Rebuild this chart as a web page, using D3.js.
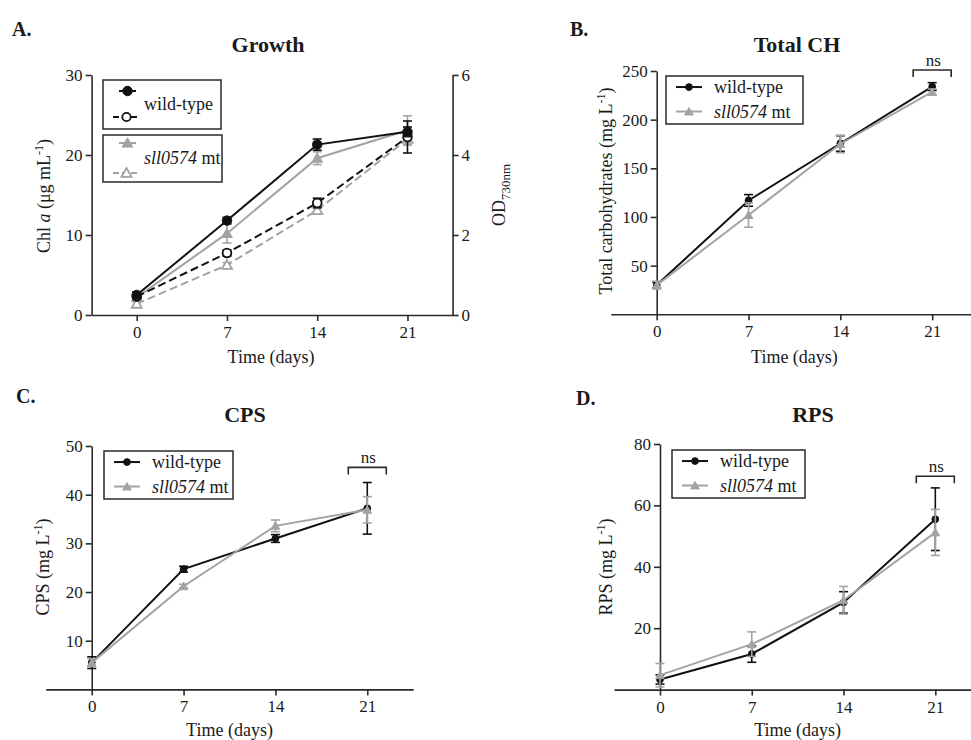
<!DOCTYPE html>
<html>
<head>
<meta charset="utf-8">
<script src="https://cdn.jsdelivr.net/npm/d3@7/dist/d3.min.js"></script>
<style>
  html, body { margin: 0; padding: 0; background: #fff; }
  svg { display: block; }
  text { font-family: "Liberation Serif", "Times New Roman", serif; fill: #1a1a1a; }
</style>
</head>
<body>
<svg id="fig" width="971" height="740"></svg>
<script>
// ---- data ----
const days = [0, 7, 14, 21];
const xTicks = [0, 7, 14, 21];

// Growth: chlorophyll a (left axis) and OD730 (right axis)
const chlWT = [2.5, 11.8, 21.3, 22.9];
const chlWTErr = [0.4, 0.4, 0.7, 0.6];
const chlMT = [2.2, 10.2, 19.6, 23.1];
const chlMTErr = [0.4, 1.2, 0.8, 1.8];
const odWT = [0.46, 1.55, 2.8, 4.45];
const odWTErr = [0.06, 0.08, 0.12, 0.4];
const odMT = [0.28, 1.25, 2.62, 4.4];
const odMTErr = [0.05, 0.06, 0.1, 0.15];
const chlTicks = [0, 10, 20, 30];
const odTicks = [0, 2, 4, 6];

// Total carbohydrates
const chWT = [30, 117, 175.5, 234];
const chWTErr = [3, 6, 8, 4];
const chMT = [30, 102, 175, 228.5];
const chMTErr = [4, 12.5, 9, 3];
const chTicks = [50, 100, 150, 200, 250];

// CPS
const cpsWT = [5.5, 24.7, 31.0, 37.2];
const cpsWTErr = [1.2, 0.6, 0.8, 5.3];
const cpsMT = [5.5, 21.2, 33.6, 36.9];
const cpsMTErr = [0.8, 0.4, 1.2, 2.7];
const cpsTicks = [10, 20, 30, 40, 50];

// RPS
const rpsWT = [3.3, 11.6, 28.4, 55.5];
const rpsWTErr = [1.5, 2.7, 3.5, 10.2];
const rpsMT = [4.7, 14.8, 29.1, 51.2];
const rpsMTErr = [3.8, 4.0, 4.5, 7.5];
const rpsTicks = [20, 40, 60, 80];

// "ns" bracket heights (in data units of each panel)
const nsLevelCH = 251;
const nsLevelCPS = 45.6;
const nsLevelRPS = 69.5;

// ---- styling ----
const BLACK = "#111";
const GREY = "#a3a3a3";
const AXIS = "#2a2a2a";
const SERIF = '"Liberation Serif", "Times New Roman", serif';
const TICK_SIZE = 17;
const LABEL_SIZE = 18;

const svg = d3.select("#fig");

function styleAxis(g) {
  g.attr("font-family", SERIF).attr("font-size", TICK_SIZE);
  g.selectAll("path.domain").attr("stroke", AXIS).attr("stroke-width", 1.6);
  g.selectAll(".tick line").attr("stroke", AXIS).attr("stroke-width", 1.6);
  g.selectAll(".tick text")
    .style("font-family", SERIF)
    .style("font-size", TICK_SIZE + "px")
    .attr("fill", "#1a1a1a");
}

function label(txt, x, y, opts = {}) {
  const t = svg.append("text")
    .attr("x", x).attr("y", y)
    .attr("text-anchor", opts.anchor || "middle")
    .style("font-family", SERIF)
    .style("font-size", (opts.size || LABEL_SIZE) + "px")
    .style("font-weight", opts.bold ? "bold" : "normal");
  if (txt) t.text(txt);
  if (opts.rotate) t.attr("transform", `rotate(-90, ${x}, ${y})`);
  return t;
}

function yLabelRich(x, y, parts) {
  const t = label("", x, y, { rotate: true });
  parts.forEach(p => {
    const s = t.append("tspan").text(p.t);
    if (p.italic) s.style("font-style", "italic");
    if (p.sup) s.attr("dy", -7).style("font-size", "12px");
    if (p.afterSup) s.attr("dy", 7);
    if (p.sub) s.attr("dy", 5).style("font-size", "13px");
  });
  return t;
}

function series(g, x, y, vals, errs, color, opts) {
  const pts = days.map((d, i) => ({ d, v: vals[i], e: errs[i] }));
  const line = d3.line().x(p => x(p.d)).y(p => y(p.v));
  g.append("path").datum(pts)
    .attr("d", line)
    .attr("fill", "none")
    .attr("stroke", color)
    .attr("stroke-width", opts.lw || 2)
    .attr("stroke-dasharray", opts.dash || null);
  const cap = opts.cap || 4.5;
  const eb = g.append("g").attr("stroke", color).attr("stroke-width", 1.6);
  pts.forEach(p => {
    const cx = x(p.d);
    eb.append("line").attr("x1", cx).attr("x2", cx).attr("y1", y(p.v - p.e)).attr("y2", y(p.v + p.e));
    eb.append("line").attr("x1", cx - cap).attr("x2", cx + cap).attr("y1", y(p.v + p.e)).attr("y2", y(p.v + p.e));
    eb.append("line").attr("x1", cx - cap).attr("x2", cx + cap).attr("y1", y(p.v - p.e)).attr("y2", y(p.v - p.e));
  });
  const sym = d3.symbol().type(opts.shape === "tri" ? d3.symbolTriangle : d3.symbolCircle).size(opts.size || 40);
  g.selectAll(null).data(pts).enter().append("path")
    .attr("d", sym)
    .attr("transform", p => `translate(${x(p.d)},${y(p.v) + (opts.shape === "tri" ? 1 : 0)})`)
    .attr("fill", opts.open ? "#fff" : color)
    .attr("stroke", color)
    .attr("stroke-width", opts.open ? 1.8 : 1);
}

function legendRow(g, x1, x2, y, color, shape, open, dash, size) {
  g.append("line").attr("x1", x1).attr("x2", x2).attr("y1", y).attr("y2", y)
    .attr("stroke", color).attr("stroke-width", 2).attr("stroke-dasharray", dash || null);
  g.append("path")
    .attr("d", d3.symbol().type(shape === "tri" ? d3.symbolTriangle : d3.symbolCircle).size(size))
    .attr("transform", `translate(${(x1 + x2) / 2},${y + (shape === "tri" ? 1 : 0)})`)
    .attr("fill", open ? "#fff" : color).attr("stroke", color).attr("stroke-width", open ? 1.8 : 1);
}

function mtText(t) {
  t.append("tspan").text("sll0574").style("font-style", "italic");
  t.append("tspan").text(" mt");
}

function nsBracket(x, y, day, level) {
  const xc = x(day), yy = y(level);
  svg.append("path")
    .attr("d", `M${xc - 19},${yy + 7}V${yy}H${xc + 19}V${yy + 7}`)
    .attr("fill", "none").attr("stroke", AXIS).attr("stroke-width", 1.6);
  label("ns", xc + 1, yy - 4, { size: 17 });
}

// ---- Panel A: Growth ----
{
  const x = d3.scaleLinear().domain([-3.5, 24.5]).range([91.6, 452.6]);
  const yL = d3.scaleLinear().domain([0, 30]).range([315, 75]);
  const yR = d3.scaleLinear().domain([0, 6]).range([315, 75]);
  const gx = svg.append("g").attr("transform", `translate(0,${yL(0)})`)
    .call(d3.axisBottom(x).tickValues(xTicks).tickSize(6).tickSizeOuter(0).tickPadding(5));
  styleAxis(gx);
  const gy = svg.append("g").attr("transform", `translate(${x(-3.5)},0)`)
    .call(d3.axisLeft(yL).tickValues(chlTicks).tickSize(6).tickSizeOuter(0).tickPadding(3));
  styleAxis(gy);
  const gr = svg.append("g").attr("transform", `translate(${x(24.5)},0)`)
    .call(d3.axisRight(yR).tickValues(odTicks).tickFormat(d3.format("d")).tickSize(6).tickSizeOuter(0).tickPadding(3));
  styleAxis(gr);

  const g = svg.append("g");
  series(g, x, yR, odMT, odMTErr, GREY, { dash: "8,4", shape: "tri", open: true, size: 45 });
  series(g, x, yL, chlMT, chlMTErr, GREY, { shape: "tri", size: 50 });
  series(g, x, yR, odWT, odWTErr, BLACK, { dash: "8,4", shape: "circle", open: true, size: 60 });
  series(g, x, yL, chlWT, chlWTErr, BLACK, { shape: "circle", size: 70 });

  label("A.", 12, 36, { anchor: "start", size: 20, bold: true });
  label("Growth", 268, 52, { size: 22, bold: true });
  label("Time (days)", 271, 363);
  yLabelRich(50, 196, [{ t: "Chl " }, { t: "a", italic: true }, { t: " (μg mL" }, { t: "-1", sup: true }, { t: ")", afterSup: true }]);
  yLabelRich(505, 195, [{ t: "OD" }, { t: "730nm", sub: true }]);

  // legend: two boxes
  const lg = svg.append("g");
  lg.append("rect").attr("x", 103).attr("y", 80).attr("width", 118).attr("height", 49)
    .attr("fill", "#fff").attr("stroke", AXIS).attr("stroke-width", 1.5);
  lg.append("rect").attr("x", 103).attr("y", 135).attr("width", 119).attr("height", 47)
    .attr("fill", "#fff").attr("stroke", AXIS).attr("stroke-width", 1.5);
  legendRow(lg, 119, 136, 91, BLACK, "circle", false, null, 70);
  legendRow(lg, 113, 140, 117, BLACK, "circle", true, "6,3", 55);
  legendRow(lg, 119, 136, 143, GREY, "tri", false, null, 50);
  legendRow(lg, 113, 140, 173, GREY, "tri", true, "6,3", 45);
  label("wild-type", 144, 110, { anchor: "start" });
  mtText(label("", 144, 164, { anchor: "start" }));
}

// ---- Panels B–D share one layout ----
function timePanel(p) {
  const x = d3.scaleLinear().domain([-3.5, 24.5]).range(p.xr);
  const y = d3.scaleLinear().domain([0, p.ymax]).range(p.yr);
  const gx = svg.append("g").attr("transform", `translate(0,${y(0)})`)
    .call(d3.axisBottom(x).tickValues(xTicks).tickSize(6).tickSizeOuter(0).tickPadding(5));
  styleAxis(gx);
  const gy = svg.append("g").attr("transform", `translate(${x(0)},0)`)
    .call(d3.axisLeft(y).tickValues(p.ticks).tickSize(6).tickSizeOuter(0).tickPadding(3));
  styleAxis(gy);

  const g = svg.append("g");
  series(g, x, y, p.wt, p.wtErr, BLACK, { shape: "circle", size: 36, cap: 4.5 });
  series(g, x, y, p.mt, p.mtErr, GREY, { shape: "tri", size: 32, cap: 4.5 });

  nsBracket(x, y, 21, p.ns);

  label(p.letter, p.letterPos[0], p.letterPos[1], { anchor: "start", size: 20, bold: true });
  label(p.title, p.titlePos[0], p.titlePos[1], { size: 22, bold: true });
  label("Time (days)", x(10.5), p.xLabY);
  yLabelRich(p.yLab[0], p.yLab[1], p.yLabParts);

  const lg = svg.append("g");
  const b = p.box;
  lg.append("rect").attr("x", b[0]).attr("y", b[1]).attr("width", b[2]).attr("height", b[3])
    .attr("fill", "#fff").attr("stroke", AXIS).attr("stroke-width", 1.5);
  const r1 = b[1] + b[3] * 0.23, r2 = b[1] + b[3] * 0.74;
  legendRow(lg, b[0] + 10, b[0] + 36, r1, BLACK, "circle", false, null, 36);
  legendRow(lg, b[0] + 10, b[0] + 36, r2, GREY, "tri", false, null, 32);
  label("wild-type", b[0] + 48, r1 + 6, { anchor: "start" });
  mtText(label("", b[0] + 48, r2 + 6, { anchor: "start" }));
}

timePanel({
  letter: "B.", letterPos: [570, 36], title: "Total CH", titlePos: [797, 52],
  xr: [610.8, 978.1], ymax: 250, yr: [314.3, 71], ticks: chTicks,
  wt: chWT, wtErr: chWTErr, mt: chMT, mtErr: chMTErr, ns: nsLevelCH,
  xLabY: 363, yLab: [612, 191],
  yLabParts: [{ t: "Total carbohydrates (mg L" }, { t: "-1", sup: true }, { t: ")", afterSup: true }],
  box: [666, 76, 137, 48]
});

timePanel({
  letter: "C.", letterPos: [16, 403], title: "CPS", titlePos: [245, 422],
  xr: [45.8, 413.2], ymax: 50, yr: [689.4, 446], ticks: cpsTicks,
  wt: cpsWT, wtErr: cpsWTErr, mt: cpsMT, mtErr: cpsMTErr, ns: nsLevelCPS,
  xLabY: 736, yLab: [49, 567],
  yLabParts: [{ t: "CPS (mg L" }, { t: "-1", sup: true }, { t: ")", afterSup: true }],
  box: [104, 451, 129, 48]
});

timePanel({
  letter: "D.", letterPos: [576, 405], title: "RPS", titlePos: [813, 422],
  xr: [614.1, 981.2], ymax: 80, yr: [689.6, 444], ticks: rpsTicks,
  wt: rpsWT, wtErr: rpsWTErr, mt: rpsMT, mtErr: rpsMTErr, ns: nsLevelRPS,
  xLabY: 736, yLab: [612, 567],
  yLabParts: [{ t: "RPS (mg L" }, { t: "-1", sup: true }, { t: ")", afterSup: true }],
  box: [672, 450, 133, 48]
});
</script>
</body>
</html>
